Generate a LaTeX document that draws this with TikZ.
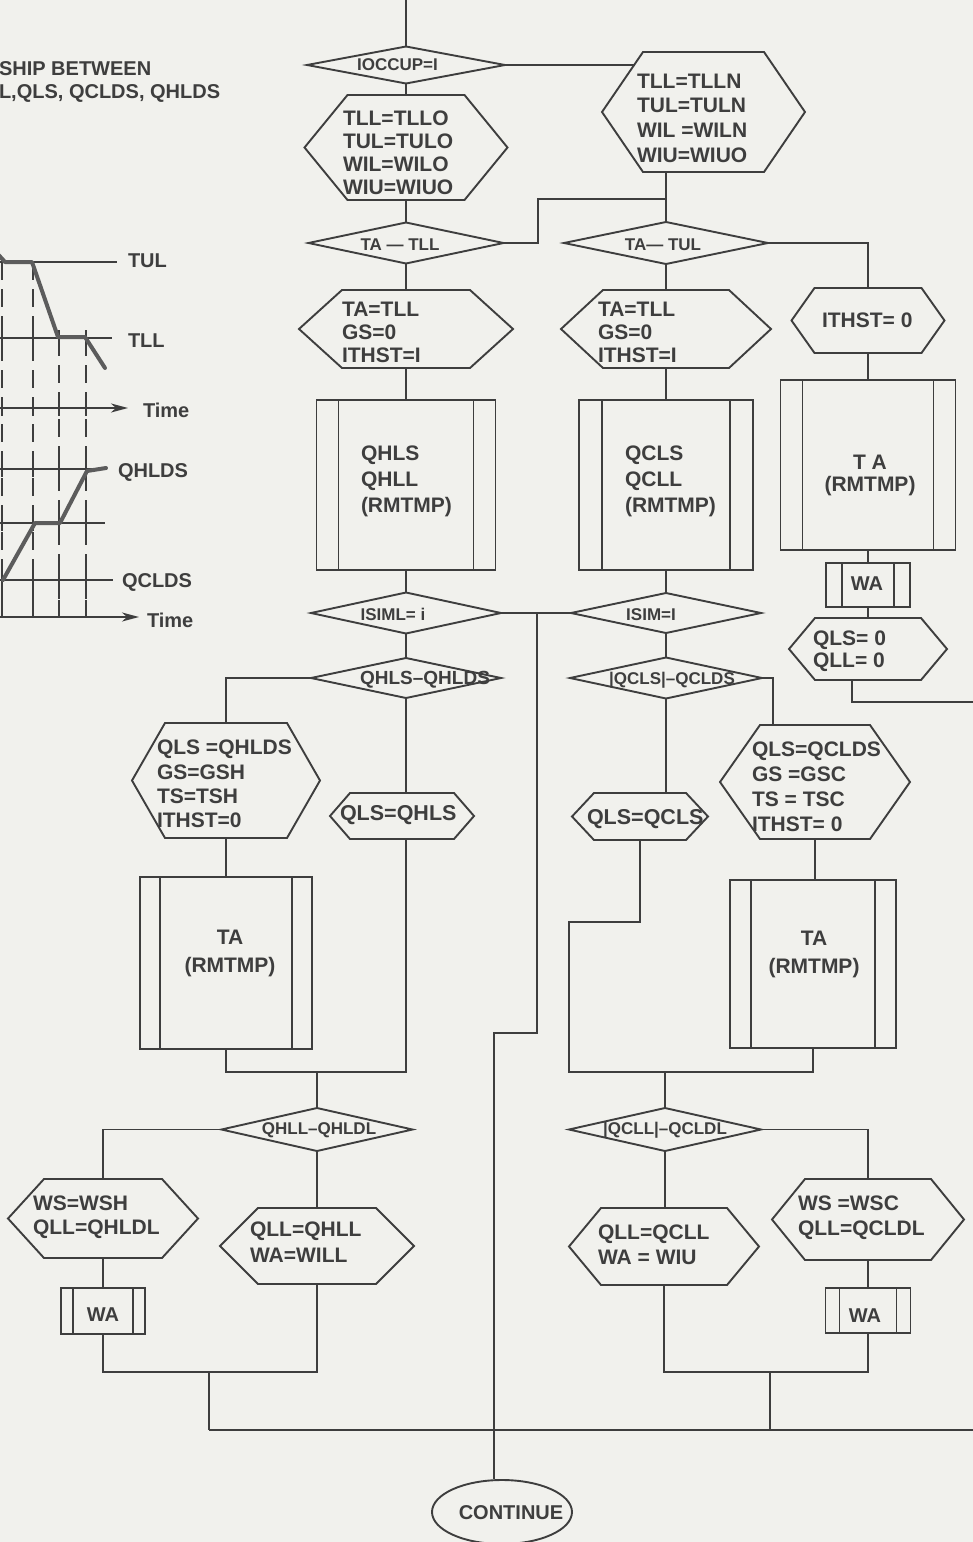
\documentclass[tikz,border=0pt]{standalone}
\usepackage{fontspec}
\setmainfont{Liberation Sans}
\usetikzlibrary{calc,arrows.meta,shapes.geometric}
\definecolor{paper}{RGB}{241,241,237}
\definecolor{ink}{RGB}{62,62,62}
\definecolor{curvec}{RGB}{92,92,92}
\newcommand\FS[2]{\fontsize{#1}{#2}\selectfont\bfseries}

\newcommand\HexNode[6]{%
  \node[shapebox, minimum width={2*#4}, minimum height={2*#5}] (#1) at (#2,#3) {};
  \draw[shapeline] ([xshift=#6]#1.north west) -- ([xshift=-#6]#1.north east) -- (#1.east)
     -- ([xshift=-#6]#1.south east) -- ([xshift=#6]#1.south west) -- (#1.west) -- cycle;}
\newcommand\DiaNode[5]{%
  \node[shapebox, minimum width=#4, minimum height=#5] (#1) at (#2,#3) {};
  \draw[shapeline] (#1.north) -- (#1.east) -- (#1.south) -- (#1.west) -- cycle;}
\newcommand\ProcNode[6]{%
  \node[shapebox, shapeline, minimum width=#4, minimum height=#5] (#1) at (#2,#3) {};
  \draw[shapeline] ([xshift=#6]#1.north west) -- ([xshift=#6]#1.south west)
     ([xshift=-#6]#1.north east) -- ([xshift=-#6]#1.south east);}

\begin{document}
\begin{tikzpicture}[x=1pt,y=-1pt,
  shapebox/.style={rectangle, inner sep=0pt, outer sep=0pt},
  shapeline/.style={draw=ink, line width=1.9pt},
  conn/.style={draw=ink, line width=1.9pt},
  txt/.style={inner sep=0pt, outer sep=0pt, text=ink, align=left, font=\FS{21}{24}},
  dtxt/.style={inner sep=0pt, outer sep=0pt, text=ink, font=\FS{17}{20}},
  lbl/.style={inner sep=0pt, outer sep=0pt, text=ink, font=\FS{20}{24}},
  gline/.style={draw=ink, line width=1.8pt},
  dline/.style={draw=ink, line width=1.8pt, dash pattern=on 18pt off 9pt},
  tline/.style={draw=curvec, line width=4pt, line cap=round, line join=round},
  axarrow/.style={-{Stealth[length=17pt,width=9pt,inset=5pt]}}
]
\useasboundingbox (0,0) rectangle (973,1542);
\fill[paper] (0,0) rectangle (973,1542);
\clip (0,0) rectangle (973,1542);

% ---------------- relationship graph (cropped at left) ----------------
\node[lbl, anchor=base west] (title1) at (-1,75) {SHIP BETWEEN};
\node[lbl, anchor=base west] (title2) at (-1,98) {L,QLS, QCLDS, QHLDS};

\draw[gline] (0,262) -- (117,262);
\draw[gline] (0,338) -- (112,338);
\draw[gline, axarrow] (0,408) -- (128,408);
\draw[gline] (0,469) -- (107,469);
\draw[gline] (0,523) -- (105,523);
\draw[gline] (0,580) -- (113,580);
\draw[gline, axarrow] (0,617) -- (139,617);

\draw[dline] (2,262) -- (2,617);
\draw[dline] (33,262) -- (33,617);
\draw[dline] (59,338) -- (59,617);
\draw[dline] (86,338) -- (86,617);
\foreach \x in {2,33,59,86} {
  \foreach \y in {338,408,469,523,580} { \draw[gline] (\x,\y-8) -- (\x,\y+8); }
  \draw[gline] (\x,600) -- (\x,617);
}
\draw[tline] (-6,250) .. controls (0,256) .. (5,262) -- (32,262) -- (58,337) -- (85,337) -- (105,368);
\draw[tline] (3,580) -- (35,523) -- (60,523) -- (87,471) -- (106,468);

\node[lbl, anchor=base west] (lTUL) at (128,267) {TUL};
\node[lbl, anchor=base west] (lTLL) at (128,347) {TLL};
\node[lbl, anchor=base west] (lTime1) at (143,417) {Time};
\node[lbl, anchor=base west] (lQH) at (118,477) {QHLDS};
\node[lbl, anchor=base west] (lQC) at (122,587) {QCLDS};
\node[lbl, anchor=base west] (lTime2) at (147,627) {Time};

% ---------------- flowchart shapes ----------------
\coordinate (start) at (406,0);
\DiaNode{D1}{406}{65}{198}{37}
\node[dtxt] (D1t) at (397.5,65) {IOCCUP=I};
\HexNode{H1}{406}{147.5}{101.5}{52.5}{43}
\node[txt, anchor=west, font=\FS{21}{23}] (H1t) at (343,152.5) {TLL=TLLO\\TUL=TULO\\WIL=WILO\\WIU=WIUO};
\HexNode{H2}{703.5}{112}{101.5}{60}{41}
\node[txt, anchor=west, font=\FS{21}{24.7}] (H2t) at (637,118) {TLL=TLLN\\TUL=TULN\\WIL =WILN\\WIU=WIUO};
\DiaNode{D2}{406}{243}{195}{41}
\node[dtxt] (D2t) at (400,245) {TA — TLL};
\DiaNode{D3}{666}{243}{204}{42}
\node[dtxt] (D3t) at (663,245) {TA— TUL};
\HexNode{H3}{406}{329}{107}{39}{43}
\node[txt, anchor=west, font=\FS{21}{23}] (H3t) at (342,332.5) {TA=TLL\\GS=0\\ITHST=I};
\HexNode{H4}{666}{329}{105}{39}{42}
\node[txt, anchor=west, font=\FS{21}{23}] (H4t) at (598,332.5) {TA=TLL\\GS=0\\ITHST=I};
\HexNode{H5}{868}{320.5}{76.5}{32.5}{23}
\node[txt, anchor=west] (H5t) at (822,320.5) {ITHST= 0};
\ProcNode{P1}{406}{485}{179}{170}{22}
\node[txt, anchor=west, font=\FS{21}{26}] (P1t) at (361,481) {QHLS\\QHLL\\(RMTMP)};
\ProcNode{P2}{666}{485}{174}{170}{23}
\node[txt, anchor=west, font=\FS{21}{26}] (P2t) at (625,481) {QCLS\\QCLL\\(RMTMP)};
\ProcNode{P3}{868}{465}{175}{170}{22}
\node[txt, align=center, font=\FS{21}{22}] (P3t) at (870,475.5) {T A\\(RMTMP)};
\ProcNode{W1}{868}{585}{84}{44}{16}
\node[txt, font=\FS{20}{22}] (W1t) at (867,584) {WA};
\HexNode{H6}{868}{649}{79}{31}{26}
\node[txt, anchor=west, font=\FS{21}{22}] (H6t) at (813,651.5) {QLS= 0\\QLL= 0};

\DiaNode{D4}{406}{613}{190}{41}
\node[dtxt] (D4t) at (393,614) {ISIML= i};
\DiaNode{D5}{666}{613}{190}{40}
\node[dtxt] (D5t) at (651,615) {ISIM=I};
\DiaNode{D8}{406}{678}{190}{40}
\node[dtxt, font=\FS{19}{20}] (D8t) at (425,680) {QHLS–QHLDS};
\DiaNode{D9}{666}{678}{192}{41}
\node[dtxt, font=\FS{17}{20}] (D9t) at (672,680) {|QCLS|–QCLDS};

\HexNode{H7}{226}{780.5}{94}{57.5}{33}
\node[txt, anchor=west, font=\FS{21}{24.3}] (H7t) at (157,784) {QLS =QHLDS\\GS=GSH\\TS=TSH\\ITHST=0};
\HexNode{H8}{402}{816}{72}{23}{20}
\node[txt, anchor=west, font=\FS{21.5}{24}] (H8t) at (340,815.5) {QLS=QHLS};
\HexNode{H13}{640}{816.5}{68}{23.5}{22}
\node[txt, anchor=west, font=\FS{21.5}{24}] (H13t) at (587,819.5) {QLS=QCLS};
\HexNode{H14}{815}{782}{95}{57}{40}
\node[txt, anchor=west, font=\FS{21}{25}] (H14t) at (752,787) {QLS=QCLDS\\GS =GSC\\TS = TSC\\ITHST= 0};

\ProcNode{P4}{226}{963}{172}{172}{20}
\node[txt, align=center, font=\FS{21}{28}] (P4t) at (230,953.5) {TA\\(RMTMP)};
\ProcNode{P5}{813}{964}{166}{168}{21}
\node[txt, align=center, font=\FS{21}{28}] (P5t) at (814,954) {TA\\(RMTMP)};

\DiaNode{D6}{317}{1129.5}{191}{43}
\node[dtxt, font=\FS{17}{20}] (D6t) at (319,1130) {QHLL–QHLDL};
\DiaNode{D7}{665}{1129.5}{192}{43}
\node[dtxt, font=\FS{17}{20}] (D7t) at (665,1130) {|QCLL|–QCLDL};

\HexNode{H9}{103}{1218.5}{95}{39.5}{36}
\node[txt, anchor=west, font=\FS{21}{24}] (H9t) at (33,1217.5) {WS=WSH\\QLL=QHLDL};
\ProcNode{W2}{103}{1311}{84}{46}{12}
\node[txt, font=\FS{20}{22}] (W2t) at (103,1314.5) {WA};
\HexNode{H10}{317}{1246}{97}{38}{38}
\node[txt, anchor=west, font=\FS{21}{26}] (H10t) at (250,1242.5) {QLL=QHLL\\WA=WILL};
\HexNode{H11}{664}{1246.5}{95}{38.5}{32}
\node[txt, anchor=west, font=\FS{21}{25}] (H11t) at (598,1245) {QLL=QCLL\\WA = WIU};
\HexNode{H12}{868}{1219.5}{96}{40.5}{33}
\node[txt, anchor=west, font=\FS{21}{25}] (H12t) at (798,1218) {WS =WSC\\QLL=QCLDL};
\ProcNode{W3}{868}{1310.5}{85}{45}{14}
\node[txt, font=\FS{20}{22}] (W3t) at (865,1315.5) {WA};

\node[draw=ink, line width=1.9pt, ellipse, minimum width=140, minimum height=64, inner sep=0pt] (cont) at (502,1512) {};
\node[txt, font=\FS{20}{22}] (contt) at (511,1513) {CONTINUE};

% ---------------- connectors ----------------
\draw[conn] (start) -- (D1.north);
\draw[conn] (D1.south) -- (H1.north);
\coordinate (h2in) at ($([xshift=41]H2.north west)!0.217!(H2.west)$);
\draw[conn] (D1.east) -- (D1.east -| h2in);
\draw[conn] (H1.south) -- (D2.north);
\coordinate (jA) at (538,199);
\draw[conn] (D3.north |- H2.south) -- (D3.north);
\draw[conn] (D2.east) -| (jA) -- (D3.north |- jA);
\draw[conn] (D2.south) -- (H3.north);
\draw[conn] (D3.south) -- (H4.north);
\draw[conn] (D3.east) -| (H5.north);
\draw[conn] (H3.south) -- (P1.north);
\draw[conn] (H4.south) -- (P2.north);
\draw[conn] (P1.south) -- (D4.north);
\draw[conn] (P2.south) -- (D5.north);
\draw[conn] (H5.south) -- (P3.north);
\draw[conn] (P3.south) -- (W1.north);
\draw[conn] (W1.south) -- (H6.north);
\coordinate (exitA) at (973,702);
\draw[conn] ([xshift=-16]H6.south) |- (exitA);
\draw[conn] (D4.east) -- (D5.west);
\coordinate (jB) at (537,613);
\coordinate (jC) at (494,1033);
\draw[conn] (jB) |- (jC) -- (jC |- cont.north);
\draw[conn] (D4.south) -- (D8.north);
\draw[conn] (D5.south) -- (D9.north);
\draw[conn] (D8.west) -| (H7.north);
\draw[conn] (D8.south) -- (D8.south |- H8.north);
\draw[conn] (D9.south) -- (D9.south |- H13.north);
\coordinate (h14in) at ([xshift=53]H14.north west);
\draw[conn] (D9.east) -| (h14in);
\draw[conn] (H7.south) -- (P4.north);
\draw[conn] (H14.south) -- (H14.south |- P5.north);
\coordinate (jE) at (317,1072);
\draw[conn] (P4.south) |- (jE);
\draw[conn] (D8.south |- H8.south) |- (jE);
\draw[conn] (jE) -- (D6.north);
\coordinate (k1) at (569,922);
\coordinate (jH) at (665,1072);
\draw[conn] (H13.south) |- (k1) |- (jH);
\draw[conn] (P5.south) |- (jH);
\draw[conn] (jH) -- (D7.north);
\draw[conn] (D6.west) -| (H9.north);
\draw[conn] (D6.south) -- (H10.north);
\draw[conn] (D7.south) -- (D7.south |- H11.north);
\draw[conn] (D7.east) -| (H12.north);
\draw[conn] (H9.south) -- (W2.north);
\draw[conn] (H12.south) -- (W3.north);
\coordinate (jF) at (209,1372);
\coordinate (jG) at (209,1430);
\draw[conn] (W2.south) |- (jF);
\draw[conn] (H10.south) |- (jF);
\draw[conn] (jF) -- (jG);
\coordinate (jJ) at (770,1372);
\coordinate (jK) at (770,1430);
\draw[conn] (W3.south) |- (jJ);
\draw[conn] (H11.south) |- (jJ);
\draw[conn] (jJ) -- (jK);
\coordinate (exitB) at (973,1430);
\draw[conn] (jG) -- (exitB);
\end{tikzpicture}
\end{document}
